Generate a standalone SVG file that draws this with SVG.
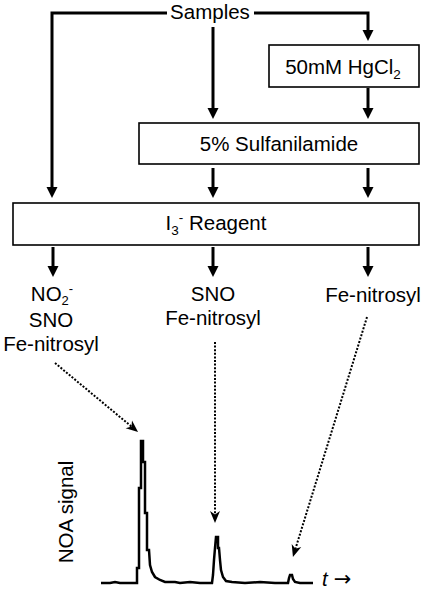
<svg xmlns="http://www.w3.org/2000/svg" width="425" height="592" viewBox="0 0 425 592">
<style>
text{font-family:"Liberation Sans",Arial,sans-serif;font-size:20.5px;fill:#000}
.box{fill:#fff;stroke:#000;stroke-width:1.6}
.arr{fill:none;stroke:#000;stroke-width:3;marker-end:url(#ah)}
.dot{fill:none;stroke:#000;stroke-width:2;stroke-dasharray:2,1.6;marker-end:url(#dh)}
.sig{fill:none;stroke:#000;stroke-width:2.5;stroke-linejoin:miter}
</style>
<defs>
<marker id="ah" markerUnits="userSpaceOnUse" markerWidth="12" markerHeight="12" refX="3" refY="5.5" orient="auto" viewBox="0 0 12 11">
<path d="M0,0 L11,5.5 L0,11 z" fill="#000"/>
</marker>
<marker id="dh" markerUnits="userSpaceOnUse" markerWidth="13" markerHeight="11" refX="4" refY="5" orient="auto" viewBox="0 0 13 10">
<path d="M0,0 L12,5 L0,10 L3.5,5 z" fill="#000"/>
</marker>
</defs>
<g id="connectors">
<path class="arr" d="M167,13 L52,13 L52,190"/>
<path class="arr" d="M254,13 L368,13 L368,33"/>
<path class="arr" d="M213,27 L213,111"/>
<path class="arr" d="M368,88 L368,111"/>
<path class="arr" d="M213,168 L213,190"/>
<path class="arr" d="M368,168 L368,190"/>
<path class="arr" d="M53,247 L53,269"/>
<path class="arr" d="M213,247 L213,269"/>
<path class="arr" d="M368,247 L368,269"/>
<path class="dot" d="M55,363 L131.9,426.9"/>
<path class="dot" d="M215,342 L215,515"/>
<path class="dot" d="M367,317 L295.3,549.3"/>
</g>
<g id="samples"><text x="210" y="19" text-anchor="middle">Samples</text></g>
<g id="hgcl2"><rect class="box" x="269" y="45" width="150" height="42"/>
<text x="343" y="74" text-anchor="middle">50mM HgCl<tspan font-size="13.5" dy="5">2</tspan></text></g>
<g id="sulfanilamide"><rect class="box" x="139" y="123" width="280" height="41"/>
<text x="279" y="151" text-anchor="middle">5% Sulfanilamide</text></g>
<g id="i3reagent"><rect class="box" x="13" y="203" width="406" height="42"/>
<text x="216" y="230" text-anchor="middle">I<tspan font-size="13.5" dy="5">3</tspan><tspan font-size="13.5" dy="-13">-</tspan><tspan dy="8"> Reagent</tspan></text></g>
<g id="label-left">
<text x="52" y="301" text-anchor="middle">NO<tspan font-size="13" dy="4">2</tspan><tspan font-size="13" dy="-12">-</tspan></text>
<text x="51" y="327" text-anchor="middle">SNO</text>
<text x="51" y="351" text-anchor="middle">Fe-nitrosyl</text>
</g>
<g id="label-mid">
<text x="213" y="301" text-anchor="middle">SNO</text>
<text x="213" y="325" text-anchor="middle">Fe-nitrosyl</text>
</g>
<g id="label-right"><text x="373" y="302" text-anchor="middle">Fe-nitrosyl</text></g>
<g id="chart">
<text transform="translate(72.5,512) rotate(-90)" text-anchor="middle">NOA signal</text>
<path class="sig" d="M101,583 L110,583 L115,582 L120,583 L130,583 L137,583 L137,568 L139,568 L139,488 L141,488 L141,441 L143,441 L143,462 L145,462 L145,513 L147,513 L147,550 L149,550 L150,565 L152,572 L155,577 L160,580 L165,582 L175,582 L180,583 L190,582 L200,583 L212,583 L213,575 L214,560 L215,548 L216,537 L218,537 L218,548 L219,548 L220,560 L221,570 L223,577 L226,581 L232,582 L245,583 L260,582 L275,583 L288,583 L289,578 L290,575 L292,575 L293,579 L295,582 L300,583 L313,583"/>
<text x="322" y="586" font-size="19"><tspan font-style="italic">t</tspan><tspan font-family="'DejaVu Sans',sans-serif" font-size="21" dx="6">→</tspan></text>
</g>
</svg>
